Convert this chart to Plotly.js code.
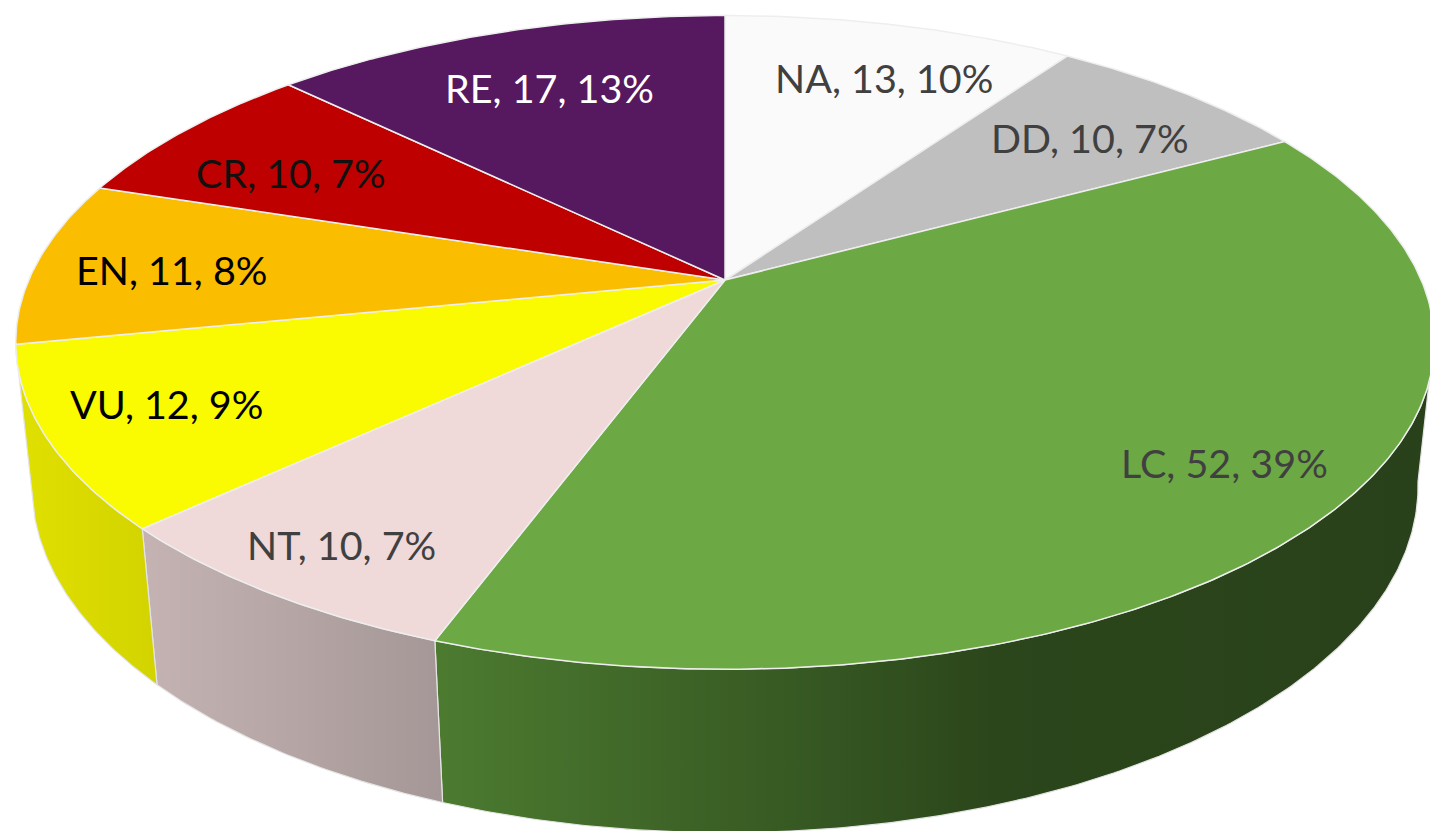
<!DOCTYPE html>
<html><head><meta charset="utf-8">
<script src="https://cdn.plot.ly/plotly-3.0.1.min.js"></script>
<style>html,body{margin:0;padding:0;background:#fff;overflow:hidden}#chart{width:1430px;height:831px}</style>
</head><body><div id="chart"></div>
<script>
// ---- data ----
const categories = ['NA', 'DD', 'LC', 'NT', 'VU', 'EN', 'CR', 'RE'];
const counts = [13, 10, 52, 10, 12, 11, 10, 17];

// ---- styles ----
const topColors = ['#fafafa', '#bfbfbf', '#6ca944', '#efd9d9', '#fafa00', '#fbbd00', '#be0000', '#56185e'];
const wallScales = [
  [[0, '#d8d8d8'], [1, '#c8c8c8']],
  [[0, '#9a9a9a'], [1, '#8a8a8a']],
  [[0, '#4c7b30'], [0.56, '#2b461b'], [1, '#29411a']],
  [[0, '#c5b3b3'], [1, '#a59797']],
  [[0, '#e0e000'], [1, '#d3d300']],
  [[0, '#d8a000'], [1, '#c89000']],
  [[0, '#a00000'], [1, '#900000']],
  [[0, '#451049'], [1, '#3a0c3e']]
];
const labelColors = ['#404040', '#404040', '#404040', '#404040', '#000000', '#000000', '#111111', '#ffffff'];
const labelRadius = [0.776, 0.758, 0.83, 0.865, 0.83, 0.80, 0.76, 0.75];
const labelAngleShift = [2.3, 1.2, -1.8, 0, 1.3, -1, -2.7, 0.3];

// ---- projection of a tilted pie (perspective) ----
const VIEW = {cx: 725, cy: 280, K: 3255, D: 4.675, tilt: 26.9 * Math.PI / 180, h: 0.233};
function project(thetaDeg, r, z) {
  const t = thetaDeg * Math.PI / 180;
  const X = r * Math.sin(t), Y = r * Math.cos(t);
  const c = Math.cos(VIEW.tilt), s = Math.sin(VIEW.tilt);
  const depth = VIEW.D + Y * c - z * s;
  return [VIEW.cx + VIEW.K * X / depth, VIEW.cy - VIEW.K * (Y * s + z * c) / depth];
}

const total = counts.reduce((a, b) => a + b, 0);
const starts = [], ends = [];
let acc = 0;
counts.forEach(v => { starts.push(acc / total * 360); acc += v; ends.push(acc / total * 360); });

function arc(a0, a1, r, z) {
  const n = Math.max(8, Math.ceil((a1 - a0) / 0.5));
  const pts = [];
  for (let i = 0; i <= n; i++) pts.push(project(a0 + (a1 - a0) * i / n, r, z));
  return pts;
}

const traces = [];
// side walls: only front-facing part of the rim
const FRONT = [100, 258];
categories.forEach((cat, i) => {
  const a0 = Math.max(starts[i], FRONT[0]), a1 = Math.min(ends[i], FRONT[1]);
  if (a1 <= a0) return;
  const topArc = arc(a0, a1, 1, 0);
  const botArc = arc(a0, a1, 1, -VIEW.h).reverse();
  const pts = topArc.concat(botArc);
  pts.push(pts[0]);
  traces.push({
    type: 'scatter', mode: 'lines', x: pts.map(p => p[0]), y: pts.map(p => p[1]),
    fill: 'toself', fillgradient: {type: 'horizontal', colorscale: wallScales[i]},
    line: {color: '#e4e4e4', width: 1.2}, hoverinfo: 'skip', showlegend: false
  });
});
// top faces
categories.forEach((cat, i) => {
  const pts = [project(0, 0, 0)].concat(arc(starts[i], ends[i], 1, 0));
  pts.push(pts[0]);
  traces.push({
    type: 'scatter', mode: 'lines', x: pts.map(p => p[0]), y: pts.map(p => p[1]),
    fill: 'toself', fillcolor: topColors[i],
    line: {color: '#eeeeee', width: 1.5}, hoverinfo: 'skip', showlegend: false
  });
});

// labels
const annotations = categories.map((cat, i) => {
  const mid = (starts[i] + ends[i]) / 2 + labelAngleShift[i];
  const p = project(mid, labelRadius[i], 0);
  const pct = Math.round(counts[i] / total * 100);
  return {
    x: p[0], y: p[1], xref: 'x', yref: 'y', showarrow: false,
    text: cat + ', ' + counts[i] + ', ' + pct + '%',
    font: {family: 'Lato, Carlito, sans-serif', size: 39.5, color: labelColors[i]},
    xanchor: 'center', yanchor: 'middle'
  };
});

const layout = {
  width: 1430, height: 831, margin: {l: 0, r: 0, t: 0, b: 0},
  paper_bgcolor: '#ffffff', plot_bgcolor: '#ffffff',
  xaxis: {range: [0, 1430], visible: false, fixedrange: true},
  yaxis: {range: [831, 0], visible: false, fixedrange: true},
  annotations: annotations, showlegend: false, hovermode: false
};
Plotly.newPlot('chart', traces, layout, {displayModeBar: false, staticPlot: true});
</script>
</body></html>
